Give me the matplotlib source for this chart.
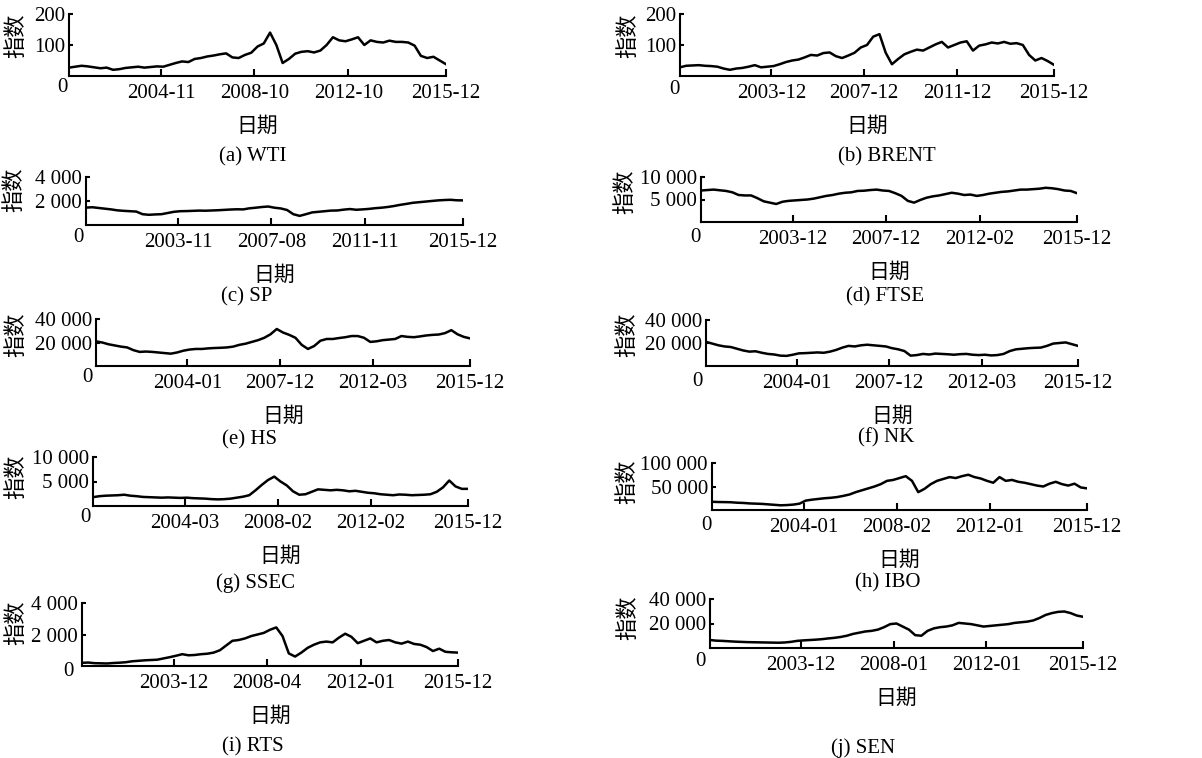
import numpy as np
import matplotlib
matplotlib.use("Agg")
from matplotlib import pyplot as plt

plt.rcParams['font.family'] = ['Liberation Serif', 'Noto Sans CJK SC']
plt.rcParams['font.size'] = 15

# valeurs (61 points par serie)
wti = [27, 30, 33, 31, 28, 25, 27, 20, 22, 26, 28, 30, 27, 29, 31, 30, 36, 42, 47, 45,
       55, 58, 63, 66, 70, 73, 60, 58, 68, 75, 95, 105, 140, 100, 42, 55, 72, 78, 80, 76,
       82, 100, 125, 115, 112, 118, 125, 100, 115, 110, 108, 114, 110, 110, 108, 98, 65, 58, 62, 50,
       38]
brent = [28, 33, 34, 35, 33, 32, 30, 24, 20, 24, 26, 30, 35, 28, 30, 32, 38, 45, 50, 53,
         60, 68, 66, 74, 76, 64, 58, 66, 75, 92, 100, 127, 135, 75, 38, 55, 70, 78, 85, 82,
         92, 102, 110, 92, 100, 108, 112, 82, 98, 102, 108, 105, 110, 104, 106, 100, 68, 50, 58, 48,
         36]
sp = [1450, 1480, 1420, 1360, 1300, 1220, 1180, 1150, 1120, 900, 850, 880, 900, 1000, 1100, 1150, 1160, 1180, 1200, 1190,
      1210, 1230, 1260, 1290, 1310, 1300, 1390, 1440, 1500, 1540, 1440, 1380, 1250, 900, 760, 900, 1050, 1100, 1150, 1200,
      1210, 1280, 1330, 1270, 1300, 1340, 1400, 1440, 1500, 1580, 1680, 1760, 1850, 1900, 1950, 2000, 2050, 2080, 2100, 2060,
      2050]
ftse = [7000, 7100, 7200, 7050, 6900, 6600, 6000, 5900, 5900, 5300, 4600, 4300, 4000, 4500, 4700, 4800, 4900, 5000, 5200, 5500,
        5800, 6000, 6300, 6500, 6600, 6900, 6950, 7100, 7200, 7000, 6900, 6400, 5800, 4700, 4300, 4900, 5400, 5700, 5900, 6200,
        6500, 6300, 6000, 6100, 5800, 6000, 6300, 6500, 6700, 6800, 7000, 7200, 7200, 7300, 7400, 7600, 7500, 7300, 7000, 6900,
        6400]
hs = [21000, 20000, 18500, 17500, 16500, 15800, 13500, 12000, 12300, 12000, 11500, 11000, 10500, 11500, 13000, 14000, 14500, 14500, 15000, 15300,
      15500, 15800, 16500, 18000, 19000, 20500, 22000, 24000, 27000, 31500, 28500, 26500, 24000, 18000, 14500, 17000, 21500, 23000, 23000, 23800,
      24500, 25500, 25500, 24000, 20500, 21000, 22000, 22500, 23000, 25500, 24800, 24500, 25200, 26000, 26500, 26800, 28000, 30500, 27000, 24800,
      23500]
nk = [21000, 19500, 18000, 17000, 16500, 15000, 13500, 12500, 12800, 11500, 10500, 10000, 9000, 8800, 9800, 11000, 11200, 11500, 11800, 11500,
      12500, 14000, 16000, 17500, 17000, 18000, 18500, 18000, 17500, 17000, 15500, 14500, 13000, 9000, 9500, 10500, 10000, 10800, 10500, 10200,
      9800, 10300, 10500, 9800, 9500, 9800, 9200, 9500, 10500, 13000, 14500, 15000, 15500, 15800, 16000, 17500, 19500, 20000, 20500, 19000,
      17500]
ssec = [1800, 2000, 2100, 2150, 2200, 2300, 2100, 2000, 1850, 1800, 1750, 1700, 1750, 1700, 1650, 1700, 1600, 1550, 1500, 1400,
        1350, 1400, 1500, 1700, 1900, 2200, 3200, 4300, 5300, 6000, 5000, 4200, 3000, 2300, 2400, 2900, 3400, 3300, 3200, 3300,
        3200, 3000, 3100, 2900, 2700, 2600, 2400, 2300, 2200, 2350, 2300, 2200, 2250, 2300, 2400, 2900, 3800, 5200, 4000, 3500,
        3500]
ibo = [17500, 17000, 16800, 16500, 15500, 15000, 14000, 13500, 13000, 12000, 11000, 10000, 10500, 11500, 13500, 20000, 22000, 23500, 25000, 26000,
       27500, 30000, 33000, 38000, 42000, 46000, 50000, 55000, 62000, 64000, 68000, 72000, 62000, 38000, 45000, 55000, 62000, 66000, 70000, 68000,
       72000, 75000, 70000, 67000, 62000, 58000, 70000, 62000, 64000, 60000, 58000, 55000, 52000, 50000, 56000, 60000, 55000, 52000, 56000, 48000,
       46000]
rts = [200, 220, 180, 170, 160, 190, 210, 240, 300, 330, 360, 380, 400, 480, 560, 650, 750, 680, 700, 750,
       780, 850, 1000, 1300, 1600, 1650, 1750, 1900, 2000, 2100, 2300, 2450, 1900, 800, 600, 850, 1150, 1350, 1500, 1550,
       1500, 1800, 2050, 1850, 1450, 1600, 1750, 1500, 1600, 1650, 1500, 1420, 1550, 1400, 1350, 1200, 950, 1100, 900, 870,
       850]
sen = [6500, 6000, 5800, 5500, 5200, 5000, 4800, 4700, 4600, 4500, 4400, 4300, 4500, 5000, 5800, 6200, 6500, 6800, 7200, 7800,
       8300, 9000, 10000, 11500, 12500, 13500, 14000, 15000, 17000, 19500, 20000, 17500, 15000, 10500, 10000, 14000, 16000, 17000, 17500, 18500,
       20500, 20000, 19500, 18500, 17500, 18000, 18500, 19000, 19500, 20500, 21000, 21500, 22500, 24500, 27000, 28500, 29500, 29800, 28500, 26500,
       25500]

# etiquettes des axes
wti_dates = ["2004-11", "2008-10", "2012-10", "2015-12"]
brent_dates = ["2003-12", "2007-12", "2011-12", "2015-12"]
sp_dates = ["2003-11", "2007-08", "2011-11", "2015-12"]
ftse_dates = ["2003-12", "2007-12", "2012-02", "2015-12"]
hs_dates = ["2004-01", "2007-12", "2012-03", "2015-12"]
nk_dates = ["2004-01", "2007-12", "2012-03", "2015-12"]
ssec_dates = ["2004-03", "2008-02", "2012-02", "2015-12"]
ibo_dates = ["2004-01", "2008-02", "2012-01", "2015-12"]
rts_dates = ["2003-12", "2008-04", "2012-01", "2015-12"]
sen_dates = ["2003-12", "2008-01", "2012-01", "2015-12"]

panels = [
    ("(a) WTI", wti, wti_dates, [100, 200], ["100", "200"]),
    ("(b) BRENT", brent, brent_dates, [100, 200], ["100", "200"]),
    ("(c) SP", sp, sp_dates, [2000, 4000], ["2 000", "4 000"]),
    ("(d) FTSE", ftse, ftse_dates, [5000, 10000], ["5 000", "10 000"]),
    ("(e) HS", hs, hs_dates, [20000, 40000], ["20 000", "40 000"]),
    ("(f) NK", nk, nk_dates, [20000, 40000], ["20 000", "40 000"]),
    ("(g) SSEC", ssec, ssec_dates, [5000, 10000], ["5 000", "10 000"]),
    ("(h) IBO", ibo, ibo_dates, [50000, 100000], ["50 000", "100 000"]),
    ("(i) RTS", rts, rts_dates, [2000, 4000], ["2 000", "4 000"]),
    ("(j) SEN", sen, sen_dates, [20000, 40000], ["20 000", "40 000"]),
]

# position en pixels : gauche, droite, haut, bas, decalage du "0", label y, legende
layout = [
    (69, 446, 14, 76, -7, -12, 16, 36, 253, 157),
    (680, 1054, 14, 76, -6, -14, 628, 36, 887, 157),
    (86, 463, 177, 225, -8, -13, 14, 190, 247, 297),
    (701, 1077, 177, 222, -6, -15, 625, 192, 885, 297),
    (96, 470, 319, 366, -9, -11, 16, 335, 250, 440),
    (706, 1078, 320, 366, -9, -16, 627, 335, 886, 438),
    (93, 468, 457, 506, -8, -12, 16, 477, 255, 583),
    (712, 1087, 463, 510, -6, -15, 627, 482, 888, 583),
    (82, 458, 603, 666, -14, -5, 16, 623, 253, 747),
    (710, 1083, 599, 648, -10, -14, 628, 618, 863, 748),
]

tick_frac = [0.244, 0.492, 0.741, 1.0]
cjk = ['Noto Sans CJK SC']

W, H = 1202, 758
fig = plt.figure(figsize=(W / 100, H / 100), dpi=100)

for (cap, y, dates, yt, ytl), (l, r, t, b, zdx, zdy, ylx, yly, cx, cy) in zip(panels, layout):
    ax = fig.add_axes([l / W, 1 - b / H, (r - l) / W, (b - t) / H])
    n = len(y) - 1
    ax.plot(np.arange(len(y)), y, color="black", linewidth=1.8)
    ax.set_xlim(0, n)
    ax.set_ylim(0, yt[-1])
    ax.set_xticks([f * n for f in tick_frac])
    ax.set_xticklabels(dates)
    ax.set_yticks(yt)
    ax.set_yticklabels(ytl)
    for s in ["top", "right"]:
        ax.spines[s].set_visible(False)
    for s in ["left", "bottom"]:
        ax.spines[s].set_linewidth(1.5)
    ax.tick_params(axis="x", direction="in", length=5, width=1.5, pad=6)
    ax.tick_params(axis="y", direction="in", length=3, width=1.5, pad=3)
    ax.annotate("0", xy=(0, 0), xycoords="axes fraction", xytext=(zdx, zdy),
                textcoords="offset pixels", ha="center", va="center")
    fig.text(ylx / W, 1 - yly / H, "指数", family=cjk, rotation=90,
             ha="center", va="center", fontsize=16)
    fig.text((l + r) / 2 / W, 1 - (b + 50) / H, "日期", family=cjk,
             ha="center", va="center", fontsize=15)
    fig.text(cx / W, 1 - cy / H, cap, ha="center", va="center")

fig.savefig("out.png", dpi=100)
